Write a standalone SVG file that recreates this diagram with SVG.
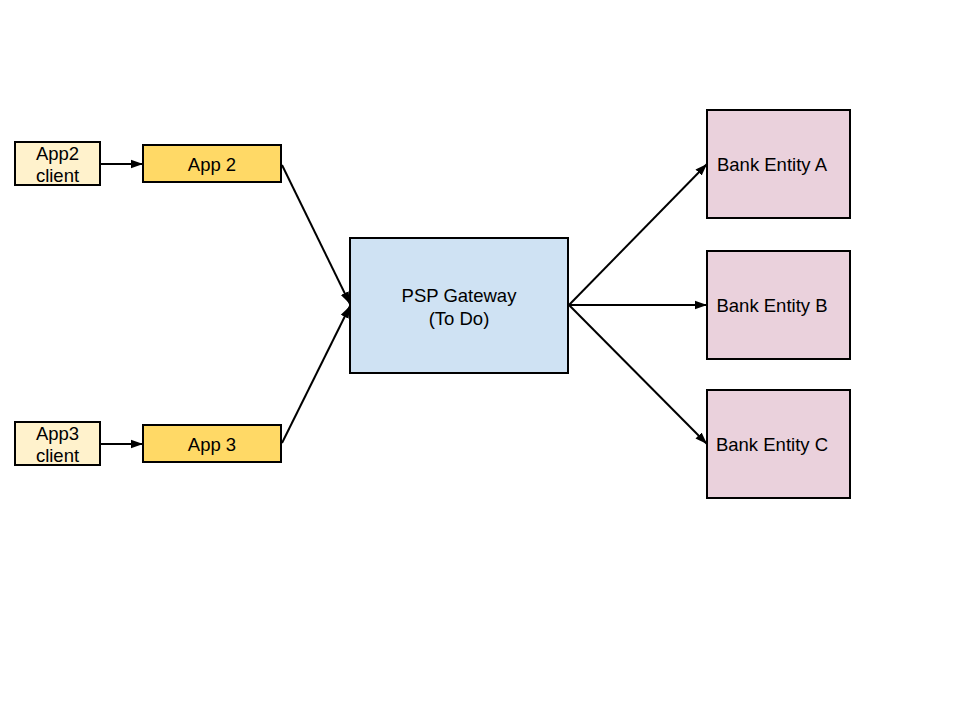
<svg xmlns="http://www.w3.org/2000/svg" width="960" height="720" viewBox="0 0 960 720">
<style>
rect{stroke:#000;stroke-width:2}
text{font-family:"Liberation Sans",Arial,sans-serif;font-size:18.5px;fill:#000;text-anchor:middle}
.client{fill:#fff2cc}
.app{fill:#ffd966}
.psp{fill:#cfe2f3}
.bank{fill:#ead1dc}
.c line{stroke:#000;stroke-width:2;marker-end:url(#ah)}
</style>
<defs>
<marker id="ah" viewBox="0 0 10 10" refX="10" refY="5" markerWidth="6" markerHeight="6" orient="auto" markerUnits="strokeWidth"><path d="M0,1.4 L10,5 L0,8.6 z" fill="#000"/></marker>
</defs>
<rect width="960" height="720" fill="#fff" style="stroke:none"/>
<g id="app2client"><rect class="client" x="15" y="142" width="85" height="43"/><text x="57.5" y="160">App2</text><text x="57.5" y="182">client</text></g>
<g id="app2"><rect class="app" x="143" y="145" width="138" height="37"/><text x="212" y="171">App 2</text></g>
<g id="app3client"><rect class="client" x="15" y="422" width="85" height="43"/><text x="57.5" y="440">App3</text><text x="57.5" y="462">client</text></g>
<g id="app3"><rect class="app" x="143" y="425" width="138" height="37"/><text x="212" y="451">App 3</text></g>
<g id="psp"><rect class="psp" x="350" y="238" width="218" height="135"/><text x="459" y="302">PSP Gateway</text><text x="459" y="325">(To Do)</text></g>
<g id="bankA"><rect class="bank" x="707" y="110" width="143" height="108"/><text x="772" y="171">Bank Entity A</text></g>
<g id="bankB"><rect class="bank" x="707" y="251" width="143" height="108"/><text x="772" y="312">Bank Entity B</text></g>
<g id="bankC"><rect class="bank" x="707" y="390" width="143" height="108"/><text x="772" y="451">Bank Entity C</text></g>
<g class="c" id="connectors">
<line x1="100" y1="164" x2="143" y2="164"/>
<line x1="100" y1="444" x2="143" y2="444"/>
<line x1="282" y1="165" x2="350" y2="304"/>
<line x1="282" y1="443" x2="350" y2="306"/>
<line x1="569" y1="305" x2="707" y2="164"/>
<line x1="569" y1="305" x2="707" y2="305"/>
<line x1="569" y1="305" x2="707" y2="444"/>
</g>
</svg>
